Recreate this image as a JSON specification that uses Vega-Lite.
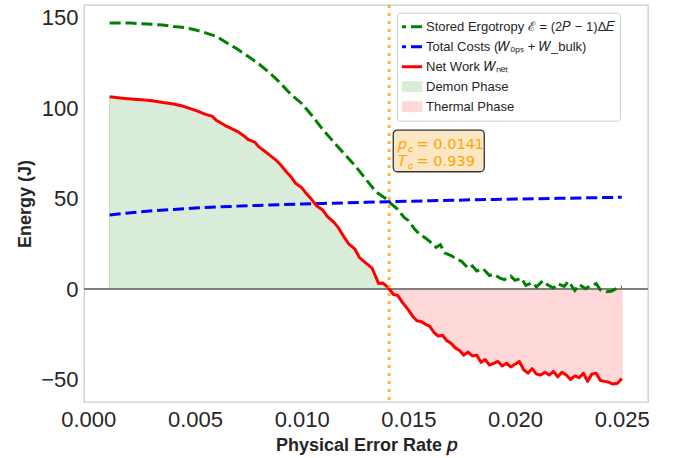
{
  "$schema": "https://vega.github.io/schema/vega-lite/v6.json",
  "width": 564,
  "height": 397,
  "autosize": {"type": "none"},
  "padding": {"left": 84, "top": 5, "right": 25, "bottom": 56},
  "background": "white",
  "config": {
    "view": {"stroke": "#cccccc", "strokeWidth": 1.3},
    "font": "Liberation Sans",
    "axis": {"domain": false, "ticks": false, "tickSize": 0, "grid": false, "labelFont": "Liberation Sans", "labelFontSize": 22, "labelColor": "#262626", "titleFont": "Liberation Sans", "titleFontSize": 18, "titleFontWeight": "bold", "titleColor": "#262626"}
  },
  "datasets": {
    "erg": [
      {"p": 0.0010, "v": 147.0}, {"p": 0.0015, "v": 147.0}, {"p": 0.0020, "v": 146.9}, {"p": 0.0025, "v": 146.6},
      {"p": 0.0030, "v": 146.2}, {"p": 0.0035, "v": 145.8}, {"p": 0.0040, "v": 145.0}, {"p": 0.0045, "v": 144.4},
      {"p": 0.0050, "v": 143.2}, {"p": 0.0055, "v": 141.5}, {"p": 0.0060, "v": 139.6}, {"p": 0.0065, "v": 135.9},
      {"p": 0.0070, "v": 132.5}, {"p": 0.0075, "v": 128.4}, {"p": 0.0080, "v": 124.3}, {"p": 0.0085, "v": 119.4},
      {"p": 0.0090, "v": 113.8}, {"p": 0.0095, "v": 107.5}, {"p": 0.0100, "v": 102.5}, {"p": 0.0105, "v": 95.6},
      {"p": 0.0110, "v": 88.0}, {"p": 0.0115, "v": 81.2}, {"p": 0.0120, "v": 74.6}, {"p": 0.0125, "v": 68.2},
      {"p": 0.0130, "v": 60.8}, {"p": 0.0135, "v": 53.5}, {"p": 0.0140, "v": 49.5}, {"p": 0.0142, "v": 47.0},
      {"p": 0.0145, "v": 44.0}, {"p": 0.0148, "v": 39.5}, {"p": 0.0150, "v": 37.8}, {"p": 0.0153, "v": 33.0},
      {"p": 0.0155, "v": 30.5}, {"p": 0.0158, "v": 28.2}, {"p": 0.0160, "v": 26.3}, {"p": 0.0163, "v": 23.0},
      {"p": 0.0165, "v": 24.5}, {"p": 0.0167, "v": 20.0}, {"p": 0.0170, "v": 18.5}, {"p": 0.0172, "v": 17.0},
      {"p": 0.0175, "v": 15.2}, {"p": 0.0178, "v": 11.5}, {"p": 0.0180, "v": 12.8}, {"p": 0.0182, "v": 10.0},
      {"p": 0.0185, "v": 11.2}, {"p": 0.0188, "v": 7.5}, {"p": 0.0190, "v": 8.2}, {"p": 0.0193, "v": 6.0},
      {"p": 0.0195, "v": 5.2}, {"p": 0.0198, "v": 7.1}, {"p": 0.0200, "v": 4.8}, {"p": 0.0203, "v": 6.0},
      {"p": 0.0205, "v": 2.0}, {"p": 0.0208, "v": 3.5}, {"p": 0.0210, "v": 1.2}, {"p": 0.0213, "v": 4.5},
      {"p": 0.0215, "v": 2.5}, {"p": 0.0218, "v": 0.5}, {"p": 0.0220, "v": 3.0}, {"p": 0.0223, "v": 1.5},
      {"p": 0.0225, "v": 4.2}, {"p": 0.0228, "v": -0.8}, {"p": 0.0230, "v": 2.5}, {"p": 0.0233, "v": 0.2},
      {"p": 0.0235, "v": 1.5}, {"p": 0.0238, "v": 3.0}, {"p": 0.0240, "v": -0.5}, {"p": 0.0243, "v": -1.5},
      {"p": 0.0245, "v": -1.2}, {"p": 0.0248, "v": 0.5}, {"p": 0.0250, "v": 1.3}
    ],
    "cost": [
      {"p": 0.0010, "v": 40.9}, {"p": 0.0020, "v": 42.2}, {"p": 0.0030, "v": 43.2}, {"p": 0.0040, "v": 44.0},
      {"p": 0.0050, "v": 44.7}, {"p": 0.0060, "v": 45.3}, {"p": 0.0070, "v": 45.8}, {"p": 0.0080, "v": 46.2},
      {"p": 0.0090, "v": 46.6}, {"p": 0.0100, "v": 47.0}, {"p": 0.0110, "v": 47.3}, {"p": 0.0120, "v": 47.6},
      {"p": 0.0130, "v": 47.9}, {"p": 0.0140, "v": 48.2}, {"p": 0.0150, "v": 48.5}, {"p": 0.0160, "v": 48.8},
      {"p": 0.0170, "v": 49.0}, {"p": 0.0180, "v": 49.3}, {"p": 0.0190, "v": 49.5}, {"p": 0.0200, "v": 49.7},
      {"p": 0.0210, "v": 49.9}, {"p": 0.0220, "v": 50.1}, {"p": 0.0230, "v": 50.3}, {"p": 0.0240, "v": 50.5},
      {"p": 0.0250, "v": 50.7}
    ],
    "net": [
      {"p": 0.0010, "v": 106.2}, {"p": 0.0015, "v": 105.5}, {"p": 0.0020, "v": 105.0}, {"p": 0.0025, "v": 104.6},
      {"p": 0.0030, "v": 104.0}, {"p": 0.0035, "v": 103.0}, {"p": 0.0040, "v": 102.2}, {"p": 0.0045, "v": 100.8},
      {"p": 0.0050, "v": 98.8}, {"p": 0.0055, "v": 96.5}, {"p": 0.0058, "v": 95.5}, {"p": 0.0060, "v": 93.2},
      {"p": 0.0065, "v": 89.8}, {"p": 0.0070, "v": 87.0}, {"p": 0.0073, "v": 84.6}, {"p": 0.0075, "v": 82.5},
      {"p": 0.0078, "v": 81.2}, {"p": 0.0080, "v": 78.5}, {"p": 0.0083, "v": 75.8}, {"p": 0.0085, "v": 74.0},
      {"p": 0.0088, "v": 71.2}, {"p": 0.0090, "v": 68.8}, {"p": 0.0093, "v": 64.5}, {"p": 0.0095, "v": 62.0},
      {"p": 0.0097, "v": 58.6}, {"p": 0.0100, "v": 56.0}, {"p": 0.0102, "v": 53.0}, {"p": 0.0105, "v": 49.0},
      {"p": 0.0107, "v": 46.0}, {"p": 0.0110, "v": 43.5}, {"p": 0.0112, "v": 40.2}, {"p": 0.0115, "v": 37.0},
      {"p": 0.0117, "v": 34.2}, {"p": 0.0120, "v": 28.5}, {"p": 0.0122, "v": 25.0}, {"p": 0.0125, "v": 22.0},
      {"p": 0.0127, "v": 17.5}, {"p": 0.0130, "v": 14.5}, {"p": 0.0133, "v": 11.5}, {"p": 0.0135, "v": 6.0},
      {"p": 0.0136, "v": 3.1}, {"p": 0.0138, "v": 3.3}, {"p": 0.0140, "v": 1.5}, {"p": 0.0141, "v": 0.0},
      {"p": 0.0143, "v": -3.0}, {"p": 0.0145, "v": -3.5}, {"p": 0.0147, "v": -7.0}, {"p": 0.0150, "v": -11.5},
      {"p": 0.0152, "v": -15.0}, {"p": 0.0154, "v": -17.5}, {"p": 0.0156, "v": -18.0}, {"p": 0.0158, "v": -19.5},
      {"p": 0.0160, "v": -20.5}, {"p": 0.0162, "v": -24.0}, {"p": 0.0164, "v": -26.0}, {"p": 0.0166, "v": -25.5},
      {"p": 0.0168, "v": -28.5}, {"p": 0.0170, "v": -30.0}, {"p": 0.0172, "v": -32.5}, {"p": 0.0174, "v": -34.0},
      {"p": 0.0176, "v": -36.5}, {"p": 0.0178, "v": -34.8}, {"p": 0.0180, "v": -37.0}, {"p": 0.0182, "v": -36.5},
      {"p": 0.0184, "v": -40.5}, {"p": 0.0186, "v": -39.0}, {"p": 0.0188, "v": -42.0}, {"p": 0.0190, "v": -41.0},
      {"p": 0.0192, "v": -40.0}, {"p": 0.0194, "v": -42.5}, {"p": 0.0196, "v": -41.0}, {"p": 0.0198, "v": -43.0},
      {"p": 0.0200, "v": -41.5}, {"p": 0.0202, "v": -40.0}, {"p": 0.0204, "v": -44.5}, {"p": 0.0206, "v": -46.5},
      {"p": 0.0208, "v": -44.0}, {"p": 0.0210, "v": -47.0}, {"p": 0.0212, "v": -47.5}, {"p": 0.0214, "v": -46.0},
      {"p": 0.0216, "v": -47.5}, {"p": 0.0218, "v": -45.5}, {"p": 0.0220, "v": -48.5}, {"p": 0.0222, "v": -46.0},
      {"p": 0.0224, "v": -47.5}, {"p": 0.0226, "v": -50.0}, {"p": 0.0228, "v": -48.0}, {"p": 0.0230, "v": -49.0},
      {"p": 0.0232, "v": -46.5}, {"p": 0.0234, "v": -51.0}, {"p": 0.0236, "v": -47.0}, {"p": 0.0238, "v": -46.5},
      {"p": 0.0240, "v": -50.5}, {"p": 0.0242, "v": -51.0}, {"p": 0.0244, "v": -51.5}, {"p": 0.0246, "v": -52.5},
      {"p": 0.0248, "v": -52.0}, {"p": 0.0250, "v": -49.5}
    ]
  },
  "layer": [
    {
      "data": {"name": "net"},
      "transform": [{"filter": "datum.p <= 0.0141"}],
      "mark": {"type": "area", "stroke": "#bcdcbc", "strokeWidth": 1},
      "encoding": {
        "x": {"field": "p", "type": "quantitative", "scale": {"domain": [-0.0002, 0.02623], "nice": false, "zero": false},
              "axis": {"values": [0, 0.005, 0.01, 0.015, 0.02, 0.025], "format": ".3f", "labelPadding": 7, "titlePadding": 6, "title": "Physical Error Rate 𝑝", "labelFlush": false}},
        "y": {"field": "v", "type": "quantitative", "scale": {"domain": [-62.4, 156.9], "nice": false, "zero": false},
              "axis": {"values": [-50, 0, 50, 100, 150], "labelPadding": 6, "titlePadding": 6, "title": "Energy (J)", "labelFlush": false}},
        "y2": {"datum": 0},
        "color": {
          "datum": "Demon Phase",
          "scale": {
            "domain": ["Stored Ergotropy ℰ = (2𝑃 − 1)Δ𝐸", "Total Costs (𝑊ₒₚₛ + 𝑊_bulk)", "Net Work 𝑊ₙₑₜ", "Demon Phase", "Thermal Phase"],
            "range": ["#008000", "#0000ff", "#ff0000", "#d9ecd9", "#ffd9d9"]
          },
          "legend": {
            "title": null,
            "orient": "none",
            "legendX": 313,
            "legendY": 7.7,
            "padding": 5,
            "rowPadding": 2,
            "clipHeight": 18,
            "labelOffset": 11,
            "labelFont": "Liberation Sans",
            "labelFontSize": 13,
            "labelColor": "#262626",
            "labelLimit": 400,
            "fillColor": "rgba(255,255,255,0.85)",
            "strokeColor": "#cccccc",
            "cornerRadius": 3,
            "symbolSize": 729,
            "symbolOpacity": 1,
            "symbolType": {"expr": "(datum.value === 'Demon Phase' || datum.value === 'Thermal Phase') ? 'M-1,-0.37H1V0.37H-1Z' : 'stroke'"},
            "symbolStrokeWidth": {"expr": "(datum.value === 'Demon Phase' || datum.value === 'Thermal Phase') ? 1 : 3"},
            "symbolDash": {"expr": "(datum.value === 'Demon Phase' || datum.value === 'Thermal Phase' || datum.value === 'Net Work 𝑊ₙₑₜ') ? [1, 0] : [11, 5]"}
          }
        }
      }
    },
    {
      "data": {"name": "net"},
      "transform": [{"filter": "datum.p >= 0.0141"}],
      "mark": {"type": "area", "stroke": "#ffc4c4", "strokeWidth": 1},
      "encoding": {
        "x": {"field": "p", "type": "quantitative"},
        "y": {"field": "v", "type": "quantitative"},
        "y2": {"datum": 0},
        "color": {"datum": "Thermal Phase"}
      }
    },
    {
      "data": {"values": [{}]},
      "mark": {"type": "rule", "color": "#7f7f7f", "strokeWidth": 2},
      "encoding": {"y": {"datum": 0, "type": "quantitative"}}
    },
    {
      "data": {"name": "erg"},
      "mark": {"type": "line", "strokeWidth": 3, "strokeDash": [11.1, 4.8]},
      "encoding": {
        "x": {"field": "p", "type": "quantitative"},
        "y": {"field": "v", "type": "quantitative"},
        "color": {"datum": "Stored Ergotropy ℰ = (2𝑃 − 1)Δ𝐸"}
      }
    },
    {
      "data": {"name": "cost"},
      "mark": {"type": "line", "strokeWidth": 3, "strokeDash": [11.1, 4.8]},
      "encoding": {
        "x": {"field": "p", "type": "quantitative"},
        "y": {"field": "v", "type": "quantitative"},
        "color": {"datum": "Total Costs (𝑊ₒₚₛ + 𝑊_bulk)"}
      }
    },
    {
      "data": {"name": "net"},
      "mark": {"type": "line", "strokeWidth": 3, "strokeJoin": "round"},
      "encoding": {
        "x": {"field": "p", "type": "quantitative"},
        "y": {"field": "v", "type": "quantitative"},
        "color": {"datum": "Net Work 𝑊ₙₑₜ"}
      }
    },
    {
      "data": {"values": [{}]},
      "mark": {"type": "rule", "color": "#ffa500", "opacity": 0.8, "strokeWidth": 3, "strokeDash": [3, 5]},
      "encoding": {"x": {"datum": 0.0141, "type": "quantitative"}}
    },
    {
      "data": {"values": [{}]},
      "mark": {"type": "rect", "fill": "#fce6c4", "stroke": "#333333", "strokeWidth": 1.3, "cornerRadius": 4},
      "encoding": {
        "x": {"datum": 0.014292, "type": "quantitative"},
        "x2": {"datum": 0.018557},
        "y": {"datum": 87.8, "type": "quantitative"},
        "y2": {"datum": 64.8}
      }
    },
    {
      "data": {"values": [{"t": "𝑝", "px": 0.014496, "pv": 77.3}, {"t": "𝑇", "px": 0.014496, "pv": 68.1}]},
      "mark": {"type": "text", "font": "DejaVu Sans", "fontSize": 14.5, "color": "#ffa500", "align": "left", "baseline": "alphabetic"},
      "encoding": {
        "x": {"field": "px", "type": "quantitative"},
        "y": {"field": "pv", "type": "quantitative"},
        "text": {"field": "t"}
      }
    },
    {
      "data": {"values": [{"t": "𝑐", "px": 0.014496, "pv": 77.3}, {"t": "𝑐", "px": 0.014496, "pv": 68.1}]},
      "mark": {"type": "text", "font": "DejaVu Sans", "fontSize": 10.2, "color": "#ffa500", "align": "left", "baseline": "alphabetic", "dx": 10, "dy": 3},
      "encoding": {
        "x": {"field": "px", "type": "quantitative"},
        "y": {"field": "pv", "type": "quantitative"},
        "text": {"field": "t"}
      }
    },
    {
      "data": {"values": [{"t": "= 0.0141", "px": 0.014496, "pv": 77.3}, {"t": "= 0.939", "px": 0.014496, "pv": 68.1}]},
      "mark": {"type": "text", "font": "DejaVu Sans", "fontSize": 14.5, "color": "#ffa500", "align": "left", "baseline": "alphabetic", "dx": 19},
      "encoding": {
        "x": {"field": "px", "type": "quantitative"},
        "y": {"field": "pv", "type": "quantitative"},
        "text": {"field": "t"}
      }
    }
  ]
}
